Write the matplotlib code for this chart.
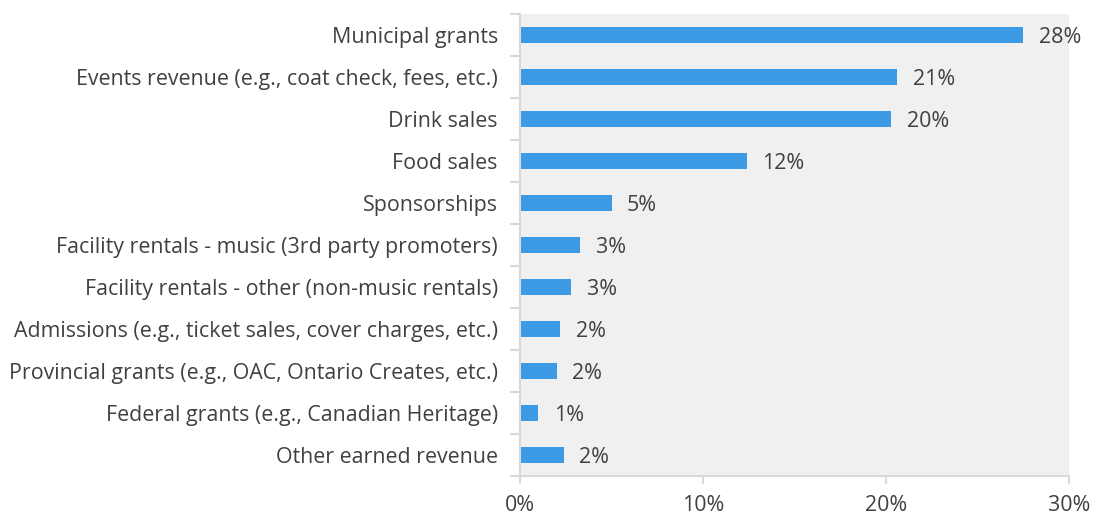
import numpy as np
import matplotlib
matplotlib.use('Agg')
import matplotlib.pyplot as plt

categories = ['Municipal grants',
              'Events revenue (e.g., coat check, fees, etc.)',
              'Drink sales',
              'Food sales',
              'Sponsorships',
              'Facility rentals - music (3rd party promoters)',
              'Facility rentals - other (non-music rentals)',
              'Admissions (e.g., ticket sales, cover charges, etc.)',
              'Provincial grants (e.g., OAC, Ontario Creates, etc.)',
              'Federal grants (e.g., Canadian Heritage)',
              'Other earned revenue']
values = [27.5, 20.6, 20.3, 12.4, 5.0, 3.3, 2.8, 2.2, 2.0, 1.0, 2.4]
labels = ['28%', '21%', '20%', '12%', '5%', '3%', '3%', '2%', '2%', '1%', '2%']
xticks = [0, 10, 20, 30]

plt.rcParams['font.family'] = ['Open Sans', 'DejaVu Sans']
txt = '#404040'
grid = '#d9d9d9'
fs = 15.4

fig = plt.figure(figsize=(10.94, 5.16), dpi=100)
ax = fig.add_axes([520/1094, 1-476/516, 549/1094, 462/516])
ax.set_facecolor('#f0f0f0')

y = np.arange(len(categories))
ax.barh(y, values, height=0.4, color='#3d9be5')
for yi, v, lab in zip(y, values, labels):
    ax.text(v + 0.85, yi, lab, va='center_baseline', ha='left', fontsize=fs, color=txt)

ax.set_xlim(0, 30)
ax.set_ylim(len(categories) - 0.5, -0.5)
ax.set_yticks(y)
ax.set_yticklabels(categories, fontsize=fs, color=txt)
ax.tick_params(axis='y', length=0, pad=16)
ax.set_yticks(np.arange(-0.5, len(categories)), minor=True)
ax.tick_params(axis='y', which='minor', length=7, color=grid, width=1.5)
ax.set_xticks(xticks)
ax.set_xticklabels([f'{t}%' for t in xticks], fontsize=fs, color=txt)
ax.tick_params(axis='x', length=6, color=grid, width=1.5, pad=8)

for s in ['top', 'right']:
    ax.spines[s].set_visible(False)
for s in ['left', 'bottom']:
    ax.spines[s].set_color(grid)
    ax.spines[s].set_linewidth(1.5)

fig.savefig('out.png', dpi=100)
